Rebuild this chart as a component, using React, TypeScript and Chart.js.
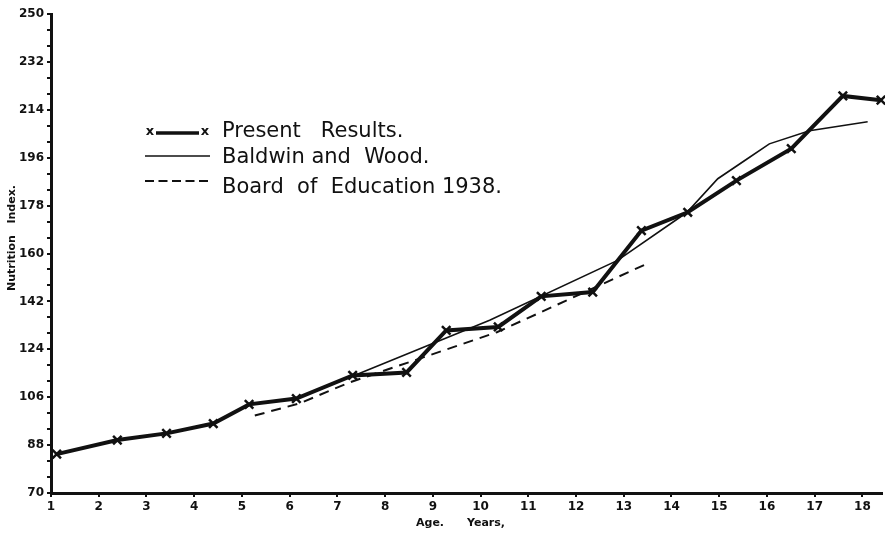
import React, { useEffect, useRef } from "react";
import { Chart, registerables } from "chart.js";

Chart.register(...registerables);

// Present Results (x——x)
const presentAges = [1.12, 2.39, 3.42, 4.4, 5.15, 6.14, 7.32, 8.45, 9.28, 10.37, 11.27, 12.35, 13.37, 14.34, 15.36, 16.51, 17.59, 18.39];
const presentValues = [84.6, 89.9, 92.4, 96.1, 103.3, 105.5, 114.2, 115.3, 131.1, 132.4, 143.9, 145.5, 168.6, 175.5, 187.4, 199.4, 219.2, 217.6];

// Baldwin and Wood (thin solid)
const baldwinAges = [5.15, 6.14, 7.47, 10.19, 12.87, 14.32, 14.97, 15.59, 16.05, 16.89, 18.11];
const baldwinValues = [103.3, 105.6, 115.0, 134.9, 157.4, 175.4, 188.1, 195.6, 201.2, 206.1, 209.5];

// Board of Education 1938 (dashed)
const boardAges = [5.27, 6.21, 7.26, 8.87, 10.34, 13.54];
const boardValues = [99.1, 103.7, 111.6, 121.4, 130.4, 156.6];

const xTickValues = [1, 2, 3, 4, 5, 6, 7, 8, 9, 10, 11, 12, 13, 14, 15, 16, 17, 18];
const yLabelValues = [70, 88, 106, 124, 142, 160, 178, 196, 214, 232, 250];

const legendLabels = ["Present   Results.", "Baldwin and  Wood.", "Board  of  Education 1938."];
const xTitle = "Age.      Years,";
const yTitle = "Nutrition   Index.";

const INK = "#111";

function pairs(xs: number[], ys: number[]) {
  return xs.map((x, i) => ({ x, y: ys[i] }));
}

export default function App() {
  const ref = useRef<HTMLCanvasElement>(null);

  useEffect(() => {
    const canvas = ref.current;
    if (!canvas) return;

    const overlay = {
      id: "overlay",
      afterDraw(chart: any) {
        const ctx = chart.ctx as CanvasRenderingContext2D;
        ctx.save();
        ctx.fillStyle = INK;
        ctx.strokeStyle = INK;
        ctx.textBaseline = "middle";

        // Legend row 1
        ctx.font = "bold 13px 'DejaVu Sans'";
        ctx.textAlign = "center";
        ctx.fillText("x", 150, 132);
        ctx.fillText("x", 205, 132);
        ctx.lineWidth = 3.5;
        ctx.beginPath();
        ctx.moveTo(156, 133);
        ctx.lineTo(199, 133);
        ctx.stroke();
        // Row 2
        ctx.lineWidth = 1.6;
        ctx.beginPath();
        ctx.moveTo(145, 156);
        ctx.lineTo(210, 156);
        ctx.stroke();
        // Row 3
        ctx.lineWidth = 2;
        ctx.setLineDash([9, 4.5]);
        ctx.beginPath();
        ctx.moveTo(145, 181);
        ctx.lineTo(210, 181);
        ctx.stroke();
        ctx.setLineDash([]);

        ctx.textAlign = "left";
        ctx.font = "21px 'DejaVu Sans'";
        ctx.fillText(legendLabels[0], 222, 132);
        ctx.fillText(legendLabels[1], 222, 158);
        ctx.fillText(legendLabels[2], 222, 188);

        // Axis titles
        ctx.font = "bold 11px 'DejaVu Sans'";
        ctx.textAlign = "left";
        ctx.fillText(xTitle, 416, 523);
        ctx.save();
        ctx.translate(12, 238);
        ctx.rotate(-Math.PI / 2);
        ctx.textAlign = "center";
        ctx.fillText(yTitle, 0, 0);
        ctx.restore();

        ctx.restore();
      },
    };

    const chart = new Chart(canvas, {
      type: "line",
      data: {
        datasets: [
          {
            label: legendLabels[0],
            data: pairs(presentAges, presentValues),
            borderColor: INK,
            borderWidth: 4,
            pointStyle: "crossRot",
            pointRadius: 6,
            pointBorderWidth: 2.5,
            pointBorderColor: INK,
            pointBackgroundColor: "transparent",
            tension: 0,
            clip: false as any,
          },
          {
            label: legendLabels[1],
            data: pairs(baldwinAges, baldwinValues),
            borderColor: INK,
            borderWidth: 1.6,
            pointRadius: 0,
            tension: 0,
            clip: false as any,
          },
          {
            label: legendLabels[2],
            data: pairs(boardAges, boardValues),
            borderColor: INK,
            borderWidth: 2,
            borderDash: [10, 7],
            pointRadius: 0,
            tension: 0,
            clip: false as any,
          },
        ],
      },
      options: {
        responsive: false,
        animation: false,
        layout: { padding: { top: 14, right: 3, left: 0, bottom: 0 } },
        plugins: {
          legend: { display: false },
          tooltip: { enabled: false },
        },
        scales: {
          x: {
            type: "linear",
            min: 1,
            max: 18.4,
            afterFit: (s: any) => {
              s.height = 41;
            },
            ticks: {
              stepSize: 1,
              includeBounds: false,
              autoSkip: false,
              maxRotation: 0,
              padding: 3,
              color: INK,
              font: { family: "'DejaVu Sans'", weight: "bold", size: 12 },
              callback: (v: any) => (xTickValues.includes(Number(v)) ? String(v) : ""),
            },
            grid: { drawOnChartArea: false, drawTicks: true, tickLength: 4, color: INK, lineWidth: 2 },
            border: { display: true, color: INK, width: 3 },
          },
          y: {
            type: "linear",
            min: 70,
            max: 250,
            afterFit: (s: any) => {
              s.width = 51;
            },
            ticks: {
              stepSize: 6,
              autoSkip: false,
              padding: 3,
              color: INK,
              font: { family: "'DejaVu Sans'", weight: "bold", size: 12 },
              callback: (v: any) => (yLabelValues.includes(Number(v)) ? String(v) : ""),
            },
            grid: { drawOnChartArea: false, drawTicks: true, tickLength: 4, color: INK, lineWidth: 2 },
            border: { display: true, color: INK, width: 3 },
          },
        },
      },
      plugins: [overlay],
    });

    return () => chart.destroy();
  }, []);

  return (
    <div
      style={{
        position: "absolute",
        left: 0,
        top: 0,
        width: 885,
        height: 534,
        overflow: "hidden",
        background: "#fff",
      }}
    >
      <canvas ref={ref} width={890} height={534} style={{ display: "block" }} />
    </div>
  );
}
